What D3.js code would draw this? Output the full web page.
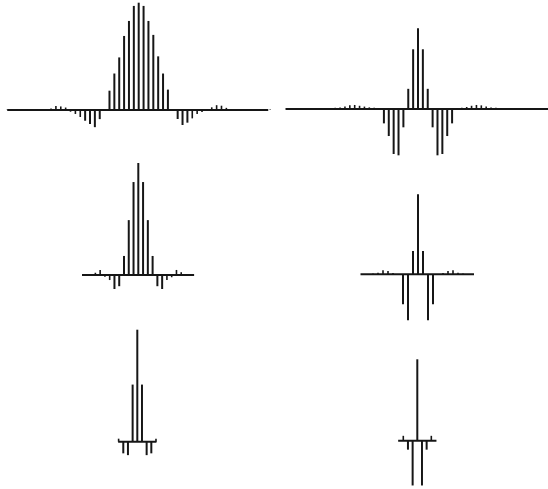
<!DOCTYPE html>
<html>
<head>
<meta charset="utf-8">
<script src="https://cdn.jsdelivr.net/npm/d3@7"></script>
<style>
  html, body { margin: 0; padding: 0; background: #fff; }
  svg { display: block; }
</style>
</head>
<body>
<svg id="chart" width="548" height="489"></svg>
<script>
// ---- Data: stem amplitudes (percent of each panel's central peak), index -K..K ----
const panelA = [0.3, 0.5, 0.3, 0.6, 0.3, 0.5, 0.4, 0.6, 0.8, 1.5, 3.7, 3.3, 2.3, -1.6, -3.7, -6.5, -10, -13, -16, -8.5, -0.5,
                18, 34, 49, 69, 83, 97, 100, 97, 83, 70, 50, 34, 19,
                -0.5, -8.4, -14, -11.8, -7.8, -3.7, -1.9, 0.5, 2.5, 4.5, 4, 2, 0.8, -0.7, -0.8, -0.6, 0.3, 0.5, 0.5, 0.6, 0.4];
const panelB = [0.3, 0, 0.3, 0.8, 0.3, 0.4, 0.3, 0.5, 0.8, 1.2, 1.5, 2, 3, 4.5, 5, 4, 3, 2, 1.5, 0.5,
                -17.8, -33.5, -55.8, -57.4, -22.7, 25, 74, 100, 74, 25, -22.7, -57.4, -55.8, -33.5, -17.8,
                0.5, 1.5, 2.5, 4, 5, 4.5, 3, 2, 1.5, 1, 0.8, 0.5, 0.3, 0.3, 0.3, 0.2, 0.3, 0.2, 0.2, 0.2];
const panelC = [0, 0.4, 0.8, 2, 4.5, -1.5, -4.5, -12.5, -10, 17, 49, 83, 100, 83, 49, 17, -10, -12.5, -4.5, -2, 4.5, 2.5, 0.8, 0.4, 0];
const panelD = [0, 0.3, 0.5, 1, 2, 5, 4, 1.5, 0, -37.5, -57.5, 29, 100, 29, -57.5, -37.5, 0, 1.5, 4, 5, 2, 1, 0.5, 0.3, 0];
const panelE = [2.7, -10.4, -12, 51, 100, 51, -12, -10.4, 2.7];
const panelF = [0, 6, -11, -55, 100, -55, -11, 6, 0];

// ---- Layout (positions in pixels, separate from data) ----
const layout = [
  { values: panelA, cx: 138.7, cy: 110,   step: 4.87, peak: 107.3, extL: 27.0, extR: 26.6 },
  { values: panelB, cx: 418,   cy: 109,   step: 4.87, peak: 80.7,  extL: 27.2, extR: 27.0 },
  { values: panelC, cx: 138.3, cy: 275,   step: 4.77, peak: 112,   extL: 11.8, extR: 11.7 },
  { values: panelD, cx: 418,   cy: 274.3, step: 5.0,  peak: 80,    extL: 11.5, extR: 11.2 },
  { values: panelE, cx: 137.3, cy: 441.7, step: 4.67, peak: 112,   extL: 4.1,  extR: 4.1 },
  { values: panelF, cx: 417.3, cy: 440.7, step: 4.67, peak: 81.4,  extL: 4.1,  extR: 4.1 }
];

const ink = "#161616";
const svg = d3.select("#chart");

layout.forEach(p => {
  const K = (p.values.length - 1) / 2;
  const x = d3.scaleLinear().domain([-1, 1]).range([p.cx - p.step, p.cx + p.step]);
  const y = d3.scaleLinear().domain([0, 100]).range([p.cy, p.cy - p.peak]);
  const g = svg.append("g");

  g.append("line")
    .attr("x1", x(-p.extL)).attr("x2", x(p.extR))
    .attr("y1", y(0)).attr("y2", y(0))
    .attr("stroke", ink).attr("stroke-width", 2);

  const pts = p.values.map((v, i) => ({ k: i - K, v }));
  g.selectAll("line.stem")
    .data(pts.filter(d => d.v !== 0))
    .enter().append("line")
    .attr("class", "stem")
    .attr("x1", d => x(d.k)).attr("x2", d => x(d.k))
    .attr("y1", y(0)).attr("y2", d => y(d.v))
    .attr("stroke", ink)
    .attr("stroke-width", d => Math.abs(d.v) < 8 ? 1.6 : 2);
});
</script>
</body>
</html>
